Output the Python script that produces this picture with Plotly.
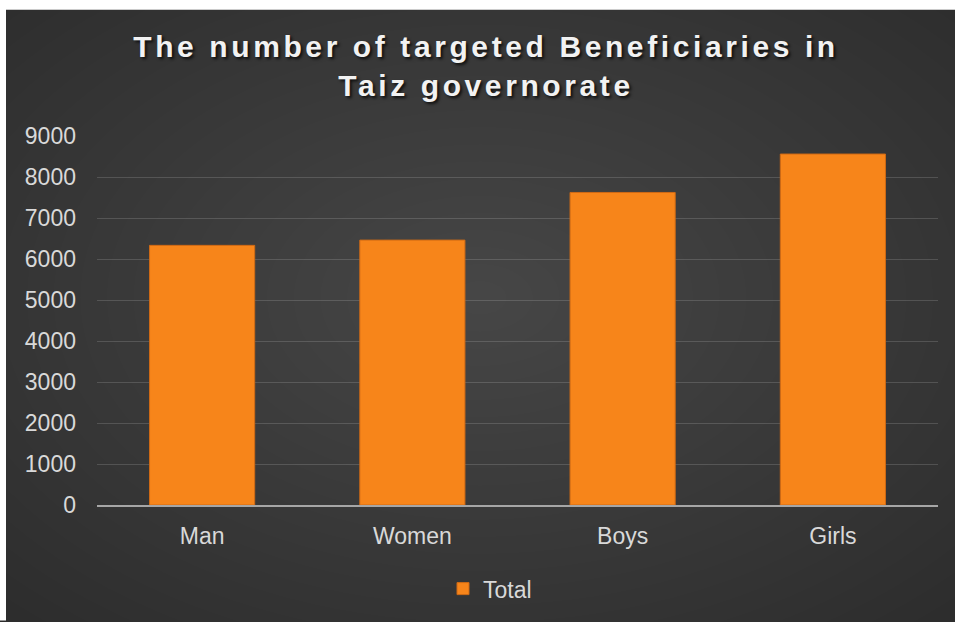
import plotly.graph_objects as go

# ---- data ----
categories = ["Man", "Women", "Boys", "Girls"]
totals = [6333, 6461, 7623, 8560]
series_name = "Total"
y_ticks = [0, 1000, 2000, 3000, 4000, 5000, 6000, 7000, 8000, 9000]
title_lines = ["The number of targeted Beneficiaries in", "Taiz governorate"]

# ---- layout geometry (pixels) ----
W, H = 955, 622
ML, MR, MT, MB = 97, 17, 136, 112
PW, PH = W - ML - MR, H - MT - MB
DARK = "#282828"


def px_x(px):
    return (px - ML) / PW


def px_y(py):
    return (H - MB - py) / PH


fig = go.Figure()
fig.add_trace(go.Bar(
    x=categories, y=totals, name=series_name,
    marker=dict(color="#F7851A", line=dict(color="#D06A14", width=1)),
    width=0.5,
))

shapes = []
# radial lightening (soft gradient)
N = 30
cx, cy = 480, 300
for k in range(N, 0, -1):
    rx = 800 * k / N
    ry = 520 * k / N
    shapes.append(dict(type="circle", xref="paper", yref="paper", layer="below",
                       x0=px_x(cx - rx), x1=px_x(cx + rx),
                       y0=px_y(cy + ry), y1=px_y(cy - ry),
                       fillcolor="rgba(255,255,255,0.0078)", line=dict(width=0)))
# white page margin at top and left
shapes.append(dict(type="rect", xref="paper", yref="paper", layer="below",
                   x0=px_x(-5), x1=px_x(W + 5), y0=px_y(8), y1=px_y(-5),
                   fillcolor="white", line=dict(width=0)))
shapes.append(dict(type="rect", xref="paper", yref="paper", layer="below",
                   x0=px_x(-5), x1=px_x(6), y0=px_y(H + 5), y1=px_y(-5),
                   fillcolor="white", line=dict(width=0)))

fig.update_layout(
    width=W, height=H,
    margin=dict(l=ML, r=MR, t=MT, b=MB, pad=0),
    paper_bgcolor=DARK,
    plot_bgcolor="rgba(0,0,0,0)",
    shapes=shapes,
    title=dict(
        text="<br>".join(title_lines),
        x=486 / W, xanchor="center", xref="container",
        y=1 - 57 / H, yanchor="top", yref="container",
        font=dict(family="Liberation Sans, Arial, sans-serif", size=30,
                  color="#F2F2F2", weight="bold",
                  shadow="2px 2px 3px rgba(0,0,0,0.75)"),
    ),
    font=dict(family="Liberation Sans, Arial, sans-serif", size=23, color="#D9D9D9"),
    xaxis=dict(showline=True, linecolor="#A6A6A6", linewidth=2,
               showgrid=False, ticks="", tickfont=dict(size=23, color="#D9D9D9"),
               ticklabelstandoff=9),
    yaxis=dict(range=[0, 9000], tickvals=y_ticks, showgrid=True,
               gridcolor="rgba(255,255,255,0.15)", gridwidth=1,
               zeroline=False, showline=False, ticks="",
               tickfont=dict(size=23, color="#D9D9D9"), ticklabelstandoff=20),
    showlegend=True,
    legend=dict(orientation="h", x=px_x(443), xanchor="left",
                y=px_y(573), yanchor="top",
                bgcolor="rgba(0,0,0,0)", font=dict(size=23, color="#D9D9D9")),
    bargap=0.5,
)

post = (
    "document.body.style.margin='0';document.body.style.overflow='hidden';"
    "document.body.style.background='" + DARK + "';"
    "document.querySelectorAll('.gtitle').forEach(function(t){t.style.letterSpacing='3.6px';});"
)
fig.write_html("out.html", post_script=post, config={"displayModeBar": False})
